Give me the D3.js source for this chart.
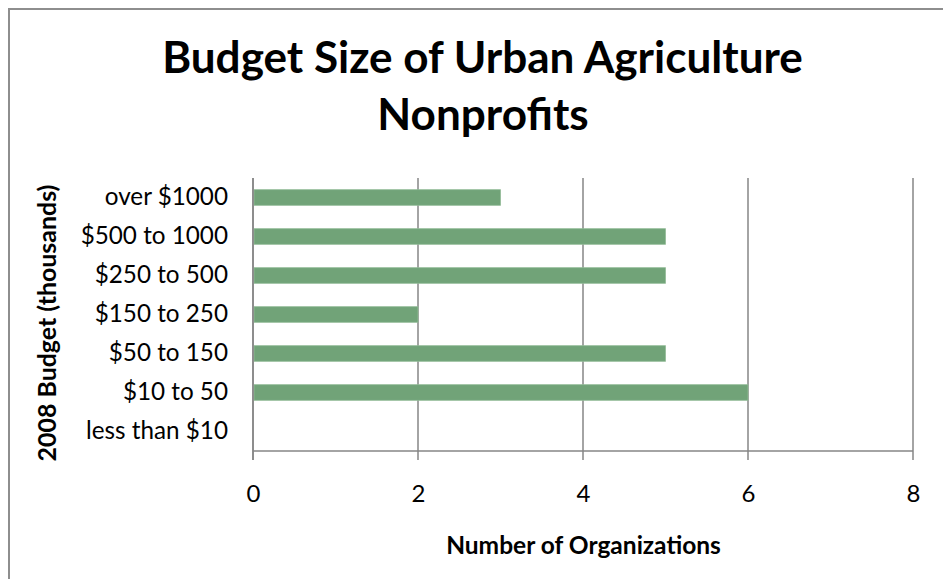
<!DOCTYPE html>
<html>
<head>
<meta charset="utf-8">
<script src="https://cdn.jsdelivr.net/npm/d3@7"></script>
<style>
  html, body { margin: 0; padding: 0; background: #fff; }
  svg { display: block; }
  text { font-family: Lato, "Open Sans", sans-serif; fill: #000; }
</style>
</head>
<body>
<svg id="chart" width="943" height="579"></svg>
<script>
// Budget categories (bottom to top) and number of organizations in each
const categories = ["less than $10", "$10 to 50", "$50 to 150", "$150 to 250", "$250 to 500", "$500 to 1000", "over $1000"];
const counts = [0, 6, 5, 2, 5, 5, 3];
const xTicks = [0, 2, 4, 6, 8];
const titleLines = ["Budget Size of Urban Agriculture", "Nonprofits"];
const xTitle = "Number of Organizations";
const yTitle = "2008 Budget (thousands)";

const svg = d3.select("#chart");
const W = 943, H = 579;
const plot = { left: 253, right: 913, top: 178, bottom: 451 };

// set a text's font size so that its rendered width matches a target width
function fitWidth(sel, target) {
  const node = sel.node();
  const size = parseFloat(sel.attr("font-size"));
  const w = node.getComputedTextLength();
  if (w > 0) sel.attr("font-size", size * target / w);
  return sel;
}

// outer chart frame
svg.append("rect")
  .attr("x", 9).attr("y", 9)
  .attr("width", W + 20).attr("height", H + 20)
  .attr("fill", "none").attr("stroke", "#8e8e8e").attr("stroke-width", 2);

const x = d3.scaleLinear().domain([0, 8]).range([plot.left, plot.right]);
const y = d3.scaleBand()
  .domain(categories.slice().reverse())
  .range([plot.top, plot.bottom])
  .paddingInner(0.6)
  .paddingOuter(0.3);

// vertical gridlines, reaching down through the tick marks
svg.append("g").selectAll("line")
  .data(xTicks)
  .join("line")
  .attr("x1", d => x(d)).attr("x2", d => x(d))
  .attr("y1", plot.top).attr("y2", plot.bottom + 9)
  .attr("stroke", "#868686").attr("stroke-width", 1.5);

// bottom axis line
svg.append("line")
  .attr("x1", plot.left).attr("x2", plot.right)
  .attr("y1", plot.bottom).attr("y2", plot.bottom)
  .attr("stroke", "#868686").attr("stroke-width", 1.5);

// bars
svg.append("g").selectAll("rect")
  .data(categories.map((c, i) => ({ c, v: counts[i] })).filter(d => d.v > 0))
  .join("rect")
  .attr("x", x(0) + 1)
  .attr("y", d => y(d.c))
  .attr("width", d => x(d.v) - x(0) - 1)
  .attr("height", y.bandwidth())
  .attr("fill", "#71a378")
  .attr("stroke", "#93bb97").attr("stroke-width", 0.8);

// x tick labels via d3 axis
const xAxis = svg.append("g")
  .attr("transform", `translate(0,${plot.bottom})`)
  .call(d3.axisBottom(x).tickValues(xTicks).tickFormat(d3.format("d")).tickSize(0).tickPadding(0));
xAxis.select(".domain").remove();
xAxis.selectAll("text")
  .attr("font-size", 24)
  .attr("font-family", "Lato, 'Open Sans', sans-serif")
  .attr("fill", "#000")
  .attr("dy", null)
  .attr("y", 51);

// category labels via d3 axis
const yAxis = svg.append("g")
  .attr("transform", `translate(${plot.left},0)`)
  .call(d3.axisLeft(y).tickSize(0).tickPadding(25));
yAxis.select(".domain")
  .attr("stroke", "#868686").attr("stroke-width", 1.5)
  .attr("d", `M0,${plot.top}V${plot.bottom + 9}`);
yAxis.selectAll("text")
  .attr("font-size", 22)
  .attr("font-family", "Lato, 'Open Sans', sans-serif")
  .attr("fill", "#000");
// scale category labels so the widest one spans the same width
{
  const lbl = yAxis.selectAll("text").filter(d => d === "less than $10");
  const w = lbl.node().getComputedTextLength();
  yAxis.selectAll("text").attr("font-size", 22 * 142 / w);
}

// title
const t1 = svg.append("text")
  .attr("x", 482.5).attr("y", 73)
  .attr("text-anchor", "middle")
  .attr("font-weight", "bold").attr("font-size", 40)
  .text(titleLines[0]);
fitWidth(t1, 641);
svg.append("text")
  .attr("x", 483).attr("y", 130)
  .attr("text-anchor", "middle")
  .attr("font-weight", "bold").attr("font-size", t1.attr("font-size"))
  .text(titleLines[1]);

// axis titles
const xt = svg.append("text")
  .attr("x", 583.5).attr("y", 554)
  .attr("text-anchor", "middle")
  .attr("font-weight", "bold").attr("font-size", 20)
  .text(xTitle);
fitWidth(xt, 275);

const yt = svg.append("text")
  .attr("transform", "translate(56,323) rotate(-90)")
  .attr("text-anchor", "middle")
  .attr("font-weight", "bold").attr("font-size", 20)
  .text(yTitle);
fitWidth(yt, 277);
</script>
</body>
</html>
